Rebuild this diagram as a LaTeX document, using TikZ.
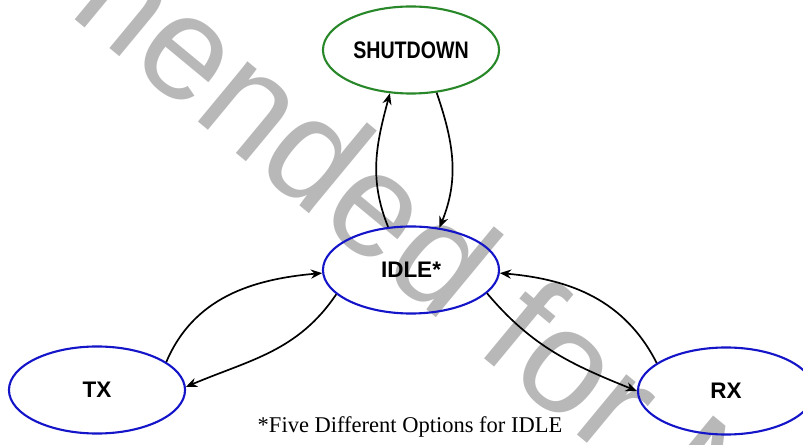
\documentclass[tikz,border=0pt]{standalone}
\usepackage{fontspec}
\setmainfont{Liberation Serif}
\setsansfont{Liberation Sans}
\newfontfamily\narrowsans[FakeStretch=0.82]{Liberation Sans}
\usepackage{tikz}
\usetikzlibrary{arrows.meta,shapes.geometric}
\definecolor{stateblue}{RGB}{20,20,200}
\definecolor{stategreen}{RGB}{40,135,40}

\begin{document}
\begin{tikzpicture}[x=0.025cm,y=-0.025cm,>={Stealth[length=8pt,width=6.5pt]},
   state/.style={draw=stateblue,ellipse,line width=1.5pt,minimum width=4.4cm,minimum height=2.175cm,inner sep=0pt,
     font=\sffamily\bfseries\fontsize{16}{18}\selectfont},
   trans/.style={->,line width=1.2pt}]
  \useasboundingbox (0,0) rectangle (803,445);
  \node[rotate=-39.6,text=black!28,font=\sffamily\fontsize{105}{110}\selectfont] (mark) at (411,248) {Not Recommended for New Designs};
  \node[state,draw=stategreen,font=\narrowsans\bfseries\fontsize{17}{19}\selectfont] (shutdown) at (411,50) {SHUTDOWN};
  \node[state] (idle) at (411,270) {IDLE*};
  \node[state] (tx) at (97,390) {TX};
  \node[state] (rx) at (726,391) {RX};
  \node[font=\fontsize{16}{18}\selectfont] (note) at (410,427) {*Five Different Options for IDLE};
  \draw[trans] (idle.118) to[out=112,in=255] (shutdown.244);
  \draw[trans] (shutdown.301) to[out=-71,in=68] (idle.56);
  \draw[trans] (tx.22) to[out=67,in=185] (idle.182);
  \draw[trans] (idle.198) to[out=236,in=23] (tx.2);
  \draw[trans] (idle.343) to[out=-50,in=158] (rx.180);
  \draw[trans] (rx.158) to[out=117,in=355] (idle.358);
\end{tikzpicture}
\end{document}
